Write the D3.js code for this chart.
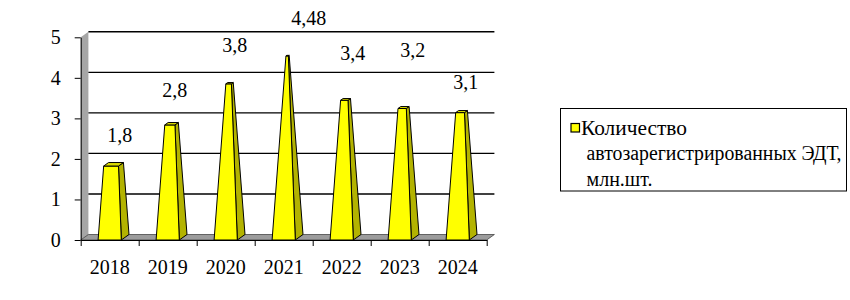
<!DOCTYPE html>
<html>
<head>
<meta charset="utf-8">
<script src="https://cdn.jsdelivr.net/npm/d3@7"></script>
</head>
<body style="margin:0">
<script>
// data
var years = ['2018', '2019', '2020', '2021', '2022', '2023', '2024'];
var counts = [1.8, 2.8, 3.8, 4.48, 3.4, 3.2, 3.1];
var countLabels = ['1,8', '2,8', '3,8', '4,48', '3,4', '3,2', '3,1'];
var yTicks = [0, 1, 2, 3, 4, 5];
var seriesName = ['Количество', 'автозарегистрированных ЭДТ,', 'млн.шт.'];

// hand placed label nudges (px), as in the original
var labelDx = [10, 7, 9, 25, 11, 13, 8];
var labelLift = [25, 29, 34, 33, 42, 53, 25];
var legendWidths = [106, 255, 66];

var X0 = 80.7, X1 = 486.7, Y0 = 240, Y5 = 37.3;
var DX = 7.7, DY = -5.5;          // depth offset of the 3d box

var svg = d3.select('body').append('svg')
    .attr('width', 850)
    .attr('height', 300);

var x = d3.scaleBand().domain(years).range([X0, X1]);
var xEdge = d3.scaleLinear().domain([0, years.length]).range([X0, X1]);
var y = d3.scaleLinear().domain([0, 5]).range([Y0, Y5]);
var yMax = 5;

// project (x, value, depth fraction) to screen
function P(px, v, t) {
    return [px + t * DX, y(v) + t * DY];
}

function serifText(sel) {
    sel.style('font-family', "'Liberation Serif'")
        .style('font-size', '20px')
        .attr('fill', '#000');
}

// left wall
svg.append('polygon')
    .attr('points', [P(X0, 0, 0), P(X0, yMax, 0), P(X0, yMax, 1), P(X0, 0, 1)].join(' '))
    .attr('fill', '#a6a6a6');

// floor
svg.append('polygon')
    .attr('points', [P(X0, 0, 0), P(X1, 0, 0), P(X1, 0, 1), P(X0, 0, 1)].join(' '))
    .attr('fill', '#9c9c9c')
    .attr('stroke', '#333')
    .attr('stroke-width', 0.7);

// back wall grid
svg.append('g').selectAll('line')
    .data(yTicks.filter(function(d) { return d > 0; }))
    .enter()
    .append('line')
    .attr('x1', X0 + DX)
    .attr('x2', X1 + DX)
    .attr('y1', function(d) { return y(d) + DY; })
    .attr('y2', function(d) { return y(d) + DY; })
    .attr('stroke', '#000')
    .attr('stroke-width', 1.4);

// axes
var axisY = d3.axisLeft(y)
    .tickValues(yTicks)
    .tickFormat(d3.format('d'))
    .tickSize(6)
    .tickSizeOuter(0)
    .tickPadding(14);

var gy = svg.append('g')
    .attr('transform', 'translate(' + X0 + ',0)')
    .call(axisY);
gy.selectAll('text').call(serifText);

var axisX = d3.axisBottom(xEdge)
    .tickValues(d3.range(years.length + 1))
    .tickFormat('')
    .tickSize(6)
    .tickSizeOuter(0);

svg.append('g')
    .attr('transform', 'translate(0,' + Y0 + ')')
    .call(axisX);

var gxl = svg.append('g')
    .attr('transform', 'translate(0,' + Y0 + ')')
    .call(d3.axisBottom(x).tickSize(0).tickPadding(19.5));
gxl.select('.domain').remove();
gxl.selectAll('text').call(serifText);

svg.selectAll('.domain, .tick line').attr('stroke', '#000');

// pyramid bars, apex at axis max
var w0 = x.bandwidth() * 0.4;
var bars = svg.append('g').selectAll('g')
    .data(counts)
    .enter()
    .append('g');

bars.each(function(v, i) {
    var g = d3.select(this);
    var cx = x(years[i]) + x.bandwidth() / 2;
    var s = 1 - v / yMax;
    var hb = w0 / 2, ht = s * w0 / 2;
    var tf = 0.5 - s / 2, tb = 0.5 + s / 2;

    var front = [P(cx - hb, 0, 0), P(cx + hb, 0, 0), P(cx + ht, v, tf), P(cx - ht, v, tf)];
    var side = [P(cx + hb, 0, 0), P(cx + hb, 0, 1), P(cx + ht, v, tb), P(cx + ht, v, tf)];
    var top = [P(cx - ht, v, tf), P(cx + ht, v, tf), P(cx + ht, v, tb), P(cx - ht, v, tb)];

    [[side, '#b3b300'], [front, '#ffff00'], [top, '#d9d900']].forEach(function(f) {
        g.append('polygon')
            .attr('points', f[0].join(' '))
            .attr('fill', f[1])
            .attr('stroke', '#000')
            .attr('stroke-width', 1)
            .attr('stroke-linejoin', 'round');
    });
});

// value labels
svg.append('g').selectAll('text')
    .data(counts)
    .enter()
    .append('text')
    .attr('x', function(d, i) { return x(years[i]) + x.bandwidth() / 2 + labelDx[i]; })
    .attr('y', function(d, i) { return y(d) - labelLift[i]; })
    .attr('text-anchor', 'middle')
    .call(serifText)
    .text(function(d, i) { return countLabels[i]; });

// legend
var legend = svg.append('g').attr('transform', 'translate(560.5,108.5)');
legend.append('rect')
    .attr('width', 286)
    .attr('height', 82.5)
    .attr('fill', '#fff')
    .attr('stroke', '#000');
legend.append('rect')
    .attr('x', 10.5)
    .attr('y', 15)
    .attr('width', 8.5)
    .attr('height', 8.5)
    .attr('fill', '#ffff00')
    .attr('stroke', '#000')
    .attr('stroke-width', 1.2);
legend.selectAll('text.item')
    .data(seriesName)
    .enter()
    .append('text')
    .attr('class', 'item')
    .attr('x', function(d, i) { return i === 0 ? 20.5 : 26; })
    .attr('y', function(d, i) { return 26 + i * 25.8; })
    .attr('textLength', function(d, i) { return legendWidths[i]; })
    .attr('lengthAdjust', 'spacingAndGlyphs')
    .call(serifText)
    .text(function(d) { return d; });
</script>
</body>
</html>
